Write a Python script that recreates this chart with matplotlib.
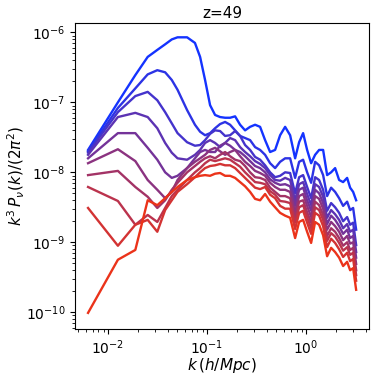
import numpy as np
import matplotlib
matplotlib.use("Agg")
import matplotlib.pyplot as plt

# wavenumbers (h/Mpc), shared by all curves
k = [0.00628, 0.01257, 0.01885, 0.02513, 0.03142, 0.0377, 0.0440, 0.0503, 0.0628, 0.0754,
     0.0850, 0.0954, 0.1072, 0.1204, 0.1353, 0.1520, 0.1707, 0.1918, 0.2154, 0.2419,
     0.2718, 0.3053, 0.3430, 0.3853, 0.4329, 0.4863, 0.5463, 0.6137, 0.6894, 0.7743,
     0.8498, 0.9326, 1.0235, 1.1233, 1.2328, 1.3530, 1.4849, 1.6296, 1.7885, 1.9628,
     2.1544, 2.3644, 2.5948, 2.7826, 2.9840, 3.2000]

# log10 of k^3 P(k)/(2 pi^2), one list per curve (blue -> red)
logP_A = [-7.68, -7.00, -6.61, -6.35, -6.25, -6.17, -6.10, -6.07, -6.07, -6.15,
          -6.35, -6.68, -7.04, -7.18, -7.21, -7.22, -7.22, -7.20, -7.32, -7.40,
          -7.35, -7.32, -7.35, -7.54, -7.71, -7.68, -7.47, -7.35, -7.47, -7.80,
          -7.57, -7.44, -7.68, -7.87, -7.75, -7.68, -7.68, -8.04, -8.00, -7.94,
          -8.11, -8.14, -8.08, -8.22, -8.28, -8.40]
logP_B = [-7.70, -7.08, -6.80, -6.60, -6.54, -6.57, -6.68, -6.82, -7.11, -7.32,
          -7.42, -7.47, -7.44, -7.37, -7.31, -7.28, -7.32, -7.40, -7.48, -7.51,
          -7.54, -7.64, -7.68, -7.75, -7.87, -7.94, -7.85, -7.80, -7.80, -8.08,
          -7.85, -7.82, -8.00, -8.15, -7.85, -7.90, -8.04, -8.34, -8.22, -8.28,
          -8.37, -8.48, -8.42, -8.54, -8.51, -8.82]
logP_C = [-7.72, -7.14, -6.91, -6.85, -6.97, -7.14, -7.30, -7.44, -7.57, -7.62,
          -7.61, -7.54, -7.45, -7.40, -7.41, -7.48, -7.47, -7.41, -7.48, -7.61,
          -7.68, -7.78, -7.82, -7.90, -8.00, -8.07, -8.05, -8.00, -8.01, -8.30,
          -8.07, -8.04, -8.21, -8.37, -8.07, -8.11, -8.25, -8.55, -8.44, -8.50,
          -8.58, -8.70, -8.64, -8.75, -8.72, -9.04]
logP_D = [-7.75, -7.21, -7.15, -7.21, -7.37, -7.58, -7.72, -7.80, -7.82, -7.75,
          -7.68, -7.58, -7.54, -7.58, -7.64, -7.58, -7.51, -7.54, -7.64, -7.71,
          -7.77, -7.84, -7.88, -7.94, -8.04, -8.11, -8.12, -8.08, -8.11, -8.40,
          -8.17, -8.14, -8.31, -8.47, -8.17, -8.21, -8.35, -8.65, -8.54, -8.60,
          -8.68, -8.80, -8.74, -8.85, -8.82, -9.14]
logP_E = [-7.80, -7.44, -7.44, -7.65, -7.82, -8.00, -8.08, -8.05, -7.94, -7.80,
          -7.71, -7.68, -7.71, -7.71, -7.62, -7.58, -7.62, -7.68, -7.71, -7.77,
          -7.84, -7.91, -7.94, -8.00, -8.10, -8.15, -8.18, -8.17, -8.20, -8.48,
          -8.25, -8.22, -8.40, -8.55, -8.25, -8.30, -8.44, -8.74, -8.62, -8.68,
          -8.77, -8.88, -8.82, -8.94, -8.91, -9.22]
logP_F = [-7.87, -7.67, -7.84, -8.11, -8.25, -8.37, -8.28, -8.11, -7.94, -7.85,
          -7.80, -7.75, -7.68, -7.65, -7.70, -7.75, -7.71, -7.68, -7.77, -7.85,
          -7.91, -7.98, -8.01, -8.05, -8.15, -8.21, -8.25, -8.25, -8.28, -8.57,
          -8.34, -8.31, -8.48, -8.64, -8.34, -8.38, -8.52, -8.82, -8.71, -8.77,
          -8.85, -8.97, -8.91, -9.02, -9.00, -9.31]
logP_G = [-8.04, -7.98, -8.21, -8.35, -8.51, -8.40, -8.25, -8.15, -8.00, -7.91,
          -7.85, -7.80, -7.77, -7.80, -7.75, -7.71, -7.77, -7.82, -7.84, -7.91,
          -8.00, -8.07, -8.08, -8.11, -8.22, -8.28, -8.34, -8.34, -8.37, -8.65,
          -8.42, -8.40, -8.57, -8.72, -8.42, -8.47, -8.61, -8.91, -8.80, -8.85,
          -8.94, -9.05, -9.00, -9.11, -9.08, -9.40]
logP_H = [-8.21, -8.41, -8.75, -8.61, -8.71, -8.51, -8.34, -8.25, -8.11, -8.00,
          -7.94, -7.87, -7.82, -7.84, -7.82, -7.80, -7.82, -7.87, -7.92, -8.00,
          -8.07, -8.14, -8.15, -8.17, -8.27, -8.32, -8.41, -8.42, -8.44, -8.72,
          -8.50, -8.47, -8.64, -8.80, -8.50, -8.54, -8.68, -8.98, -8.87, -8.92,
          -9.01, -9.12, -9.07, -9.18, -9.15, -9.47]
logP_I = [-8.51, -9.05, -8.75, -8.68, -8.85, -8.54, -8.40, -8.28, -8.17, -8.07,
          -8.00, -7.94, -7.91, -7.90, -7.88, -7.90, -7.90, -7.94, -8.01, -8.08,
          -8.15, -8.22, -8.24, -8.21, -8.32, -8.37, -8.48, -8.52, -8.52, -8.81,
          -8.58, -8.55, -8.72, -8.88, -8.58, -8.62, -8.77, -9.07, -8.95, -9.01,
          -9.10, -9.21, -9.15, -9.27, -9.24, -9.55]
logP_J = [-10.01, -9.25, -9.11, -8.40, -8.47, -8.37, -8.28, -8.21, -8.11, -8.07,
          -8.05, -8.04, -8.05, -8.02, -8.01, -8.05, -8.05, -8.08, -8.14, -8.20,
          -8.28, -8.38, -8.40, -8.31, -8.42, -8.50, -8.58, -8.62, -8.65, -8.94,
          -8.71, -8.68, -8.85, -9.01, -8.71, -8.75, -8.90, -9.20, -9.08, -9.14,
          -9.22, -9.34, -9.28, -9.40, -9.37, -9.68]

curves = [logP_A, logP_B, logP_C, logP_D, logP_E, logP_F, logP_G, logP_H, logP_I, logP_J]

blue = np.array([0.08, 0.20, 1.00])
red = np.array([0.92, 0.20, 0.10])

fig = plt.figure(figsize=(3.79, 3.79), dpi=100)
ax = fig.add_axes([0.198, 0.132, 0.776, 0.807])

n = len(curves)
for i, lp in enumerate(curves):
    t = i / (n - 1)
    c = (1 - t) * blue + t * red
    ax.plot(k, 10 ** np.array(lp), color=c, lw=1.7)

ax.set_xscale('log')
ax.set_yscale('log')
ax.set_xlim(0.00464, 4.33)
ax.set_ylim(10 ** -10.24, 10 ** -5.867)
ax.set_title("z=49", fontsize=11, pad=4)
ax.set_xlabel(r"$k\,(h/Mpc)$", fontsize=11, labelpad=-1)
ax.set_ylabel(r"$k^3\,P_\nu(k)/(2\pi^2)$", fontsize=11, labelpad=-1)
ax.tick_params(labelsize=10)

fig.savefig("out.png", dpi=100)
